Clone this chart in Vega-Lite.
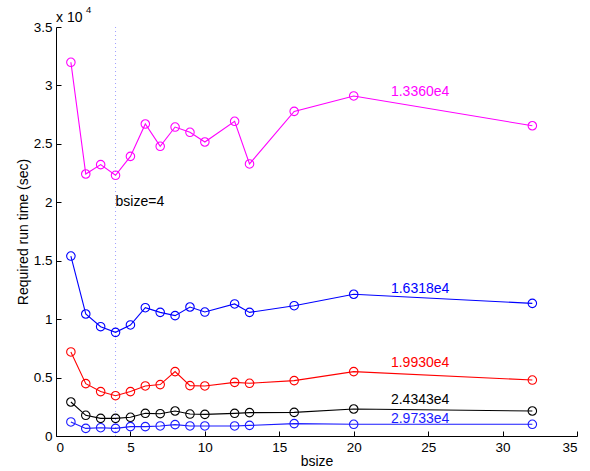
{
  "$schema": "https://vega.github.io/schema/vega-lite/v6.json",
  "width": 521,
  "height": 409,
  "autosize": "none",
  "padding": {"left": 56, "top": 27, "right": 13, "bottom": 35},
  "background": "white",
  "config": {
    "font": "Liberation Sans",
    "view": {"stroke": null},
    "axis": {
      "grid": false,
      "domainColor": "black",
      "tickColor": "black",
      "labelColor": "black",
      "titleColor": "black",
      "labelFontSize": 13.5,
      "titleFontSize": 14,
      "titleFontWeight": "normal",
      "tickSize": -5,
      "labelPadding": 9
    }
  },
  "datasets": {
    "pts": [
      {"s": "a", "x": 1, "y": 31980}, {"s": "a", "x": 2, "y": 22420}, {"s": "a", "x": 3, "y": 23220}, {"s": "a", "x": 4, "y": 22310}, {"s": "a", "x": 5, "y": 23930}, {"s": "a", "x": 6, "y": 26700}, {"s": "a", "x": 7, "y": 24790}, {"s": "a", "x": 8, "y": 26440}, {"s": "a", "x": 9, "y": 25990}, {"s": "a", "x": 10, "y": 25160}, {"s": "a", "x": 12, "y": 26930}, {"s": "a", "x": 13, "y": 23280}, {"s": "a", "x": 16, "y": 27780}, {"s": "a", "x": 20, "y": 29100}, {"s": "a", "x": 32, "y": 26550},
      {"s": "b", "x": 1, "y": 15400}, {"s": "b", "x": 2, "y": 10440}, {"s": "b", "x": 3, "y": 9355}, {"s": "b", "x": 4, "y": 8870}, {"s": "b", "x": 5, "y": 9500}, {"s": "b", "x": 6, "y": 10980}, {"s": "b", "x": 7, "y": 10580}, {"s": "b", "x": 8, "y": 10300}, {"s": "b", "x": 9, "y": 11040}, {"s": "b", "x": 10, "y": 10610}, {"s": "b", "x": 12, "y": 11300}, {"s": "b", "x": 13, "y": 10580}, {"s": "b", "x": 16, "y": 11150}, {"s": "b", "x": 20, "y": 12130}, {"s": "b", "x": 32, "y": 11350},
      {"s": "c", "x": 1, "y": 7190}, {"s": "c", "x": 2, "y": 4480}, {"s": "c", "x": 3, "y": 3800}, {"s": "c", "x": 4, "y": 3450}, {"s": "c", "x": 5, "y": 3800}, {"s": "c", "x": 6, "y": 4280}, {"s": "c", "x": 7, "y": 4400}, {"s": "c", "x": 8, "y": 5510}, {"s": "c", "x": 9, "y": 4310}, {"s": "c", "x": 10, "y": 4280}, {"s": "c", "x": 12, "y": 4590}, {"s": "c", "x": 13, "y": 4510}, {"s": "c", "x": 16, "y": 4740}, {"s": "c", "x": 20, "y": 5510}, {"s": "c", "x": 32, "y": 4790},
      {"s": "d", "x": 1, "y": 2910}, {"s": "d", "x": 2, "y": 1770}, {"s": "d", "x": 3, "y": 1510}, {"s": "d", "x": 4, "y": 1510}, {"s": "d", "x": 5, "y": 1600}, {"s": "d", "x": 6, "y": 1940}, {"s": "d", "x": 7, "y": 1910}, {"s": "d", "x": 8, "y": 2140}, {"s": "d", "x": 9, "y": 1880}, {"s": "d", "x": 10, "y": 1850}, {"s": "d", "x": 12, "y": 1940}, {"s": "d", "x": 13, "y": 2000}, {"s": "d", "x": 16, "y": 2020}, {"s": "d", "x": 20, "y": 2310}, {"s": "d", "x": 32, "y": 2140},
      {"s": "e", "x": 1, "y": 1200}, {"s": "e", "x": 2, "y": 650}, {"s": "e", "x": 3, "y": 710}, {"s": "e", "x": 4, "y": 650}, {"s": "e", "x": 5, "y": 800}, {"s": "e", "x": 6, "y": 800}, {"s": "e", "x": 7, "y": 860}, {"s": "e", "x": 8, "y": 970}, {"s": "e", "x": 9, "y": 860}, {"s": "e", "x": 10, "y": 860}, {"s": "e", "x": 12, "y": 860}, {"s": "e", "x": 13, "y": 910}, {"s": "e", "x": 16, "y": 1060}, {"s": "e", "x": 20, "y": 1000}, {"s": "e", "x": 32, "y": 1000}
    ],
    "labels": [
      {"s": "a", "x": 22.5, "y": 29440, "t": "1.3360e4"},
      {"s": "b", "x": 22.5, "y": 12580, "t": "1.6318e4"},
      {"s": "c", "x": 22.5, "y": 6220, "t": "1.9930e4"},
      {"s": "d", "x": 22.5, "y": 3080, "t": "2.4343e4"},
      {"s": "e", "x": 22.5, "y": 1430, "t": "2.9733e4"}
    ]
  },
  "layer": [
    {
      "data": {"values": [{"x": 4}]},
      "mark": {"type": "rule", "color": "#a0a0ff", "strokeDash": [1, 3], "strokeWidth": 1},
      "encoding": {"x": {"field": "x", "type": "quantitative", "scale": {"domain": [0, 35]}}}
    },
    {
      "data": {"name": "pts"},
      "mark": {"type": "line", "strokeWidth": 1.1, "point": {"filled": false, "shape": "circle", "size": 72, "strokeWidth": 1.1}},
      "encoding": {
        "x": {"field": "x", "type": "quantitative", "scale": {"domain": [0, 35]}, "axis": {"title": "bsize", "values": [0, 5, 10, 15, 20, 25, 30, 35], "titlePadding": 1}},
        "y": {"field": "y", "type": "quantitative", "scale": {"domain": [0, 35000]}, "axis": {"title": "Required run time (sec)", "values": [0, 5000, 10000, 15000, 20000, 25000, 30000, 35000], "labelExpr": "datum.value/10000 + ''", "titlePadding": 3}},
        "color": {"field": "s", "type": "nominal", "scale": {"domain": ["a", "b", "c", "d", "e"], "range": ["#ff00ff", "#0000ff", "#ff0000", "#000000", "#1a1aff"]}, "legend": null},
        "detail": {"field": "s"}
      }
    },
    {
      "data": {"name": "labels"},
      "mark": {"type": "text", "align": "left", "baseline": "middle", "fontSize": 14},
      "encoding": {
        "x": {"field": "x", "type": "quantitative"},
        "y": {"field": "y", "type": "quantitative"},
        "text": {"field": "t"},
        "color": {"field": "s", "type": "nominal", "legend": null}
      }
    },
    {
      "data": {"values": [{"x": 4, "y": 20000, "t": "bsize=4"}]},
      "mark": {"type": "text", "align": "left", "baseline": "middle", "fontSize": 14, "color": "black"},
      "encoding": {
        "x": {"field": "x", "type": "quantitative"},
        "y": {"field": "y", "type": "quantitative"},
        "text": {"field": "t"}
      }
    },
    {
      "data": {"values": [{"x": 0, "y": 35000, "t": "x 10"}]},
      "mark": {"type": "text", "align": "left", "baseline": "alphabetic", "fontSize": 14, "color": "black", "dy": -5},
      "encoding": {
        "x": {"field": "x", "type": "quantitative"},
        "y": {"field": "y", "type": "quantitative"},
        "text": {"field": "t"}
      }
    },
    {
      "data": {"values": [{"x": 0, "y": 35000, "t": "4"}]},
      "mark": {"type": "text", "align": "left", "baseline": "alphabetic", "fontSize": 9.5, "color": "black", "dx": 30, "dy": -14},
      "encoding": {
        "x": {"field": "x", "type": "quantitative"},
        "y": {"field": "y", "type": "quantitative"},
        "text": {"field": "t"}
      }
    }
  ]
}
